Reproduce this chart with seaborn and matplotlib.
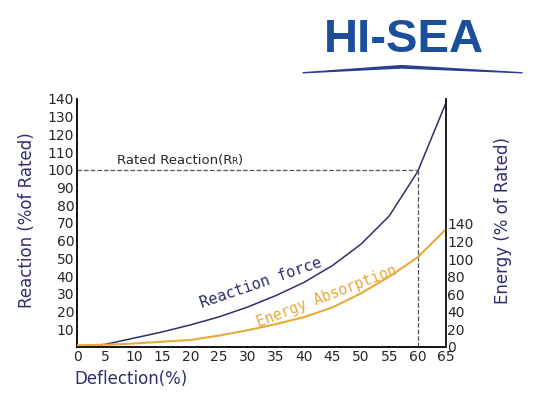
import numpy as np
import pandas as pd
import seaborn as sns
import matplotlib.pyplot as plt
from matplotlib.patches import Polygon

# --- DATOS ---
deflection = [0, 5, 10, 15, 20, 25, 30, 35, 40, 45, 50, 55, 60, 65]
reaction = [0, 1.5, 5, 8.5, 12.5, 17, 22.5, 29, 36.5, 46, 58, 74, 99, 138]
energy = [2, 2.5, 4, 6, 8, 13, 19, 26, 34, 45, 61, 80, 102, 134]
left_ticks = [10, 20, 30, 40, 50, 60, 70, 80, 90, 100, 110, 120, 130, 140]
right_ticks = [0, 20, 40, 60, 80, 100, 120, 140]
x_ticks = [0, 5, 10, 15, 20, 25, 30, 35, 40, 45, 50, 55, 60, 65]
rated = 100
rated_defl = 60

navy = '#2e2f6e'
orange = '#e8a93a'

sns.set_style('white')
plt.rcParams['font.family'] = ['DejaVu Sans']

df = pd.DataFrame({'x': deflection, 'r': reaction, 'e': energy})

fig = plt.figure(figsize=(5.5, 4), dpi=100)
ax = fig.add_axes([0.14, 0.1325, 0.671, 0.62])
sns.lineplot(data=df, x='x', y='r', ax=ax, color=navy, linewidth=1.1)
ax.set_xlim(0, 65)
ax.set_ylim(0, 140)
ax.set_xticks(x_ticks)
ax.set_yticks(left_ticks)
ax.tick_params(length=0, labelsize=10, pad=2)
ax.set_xlabel('')
ax.set_ylabel('')
ax.spines['top'].set_visible(False)
for s in ['left', 'bottom', 'right']:
    ax.spines[s].set_color('black')
    ax.spines[s].set_linewidth(1.3)

ax.plot([0, rated_defl], [rated, rated], ls='--', color='#555555', lw=0.9)
ax.plot([rated_defl, rated_defl], [0, rated], ls='--', color='#555555', lw=0.9)
ax.text(7, 103.5, 'Rated Reaction(R', fontsize=9.5)
ax.text(27.2, 103.5, 'R', fontsize=6.5)
ax.text(28.3, 103.5, ')', fontsize=9.5)

ax2 = ax.twinx()
sns.lineplot(data=df, x='x', y='e', ax=ax2, color=orange, linewidth=1.5)
ax2.set_ylim(0, 282)
ax2.set_yticks(right_ticks)
ax2.tick_params(length=0, labelsize=10, pad=1)
ax2.set_ylabel('')
for s in ['top', 'left', 'bottom']:
    ax2.spines[s].set_visible(False)
ax2.spines['right'].set_linewidth(1.3)

ax.text(22, 22, 'Reaction force', family='monospace', fontsize=11, color=navy,
        rotation=19, rotation_mode='anchor')
ax2.text(32, 22, 'Energy Absorption', family='monospace', fontsize=10.5,
         color=orange, rotation=21, rotation_mode='anchor')

fig.text(0.05, 0.45, 'Reaction (%of Rated)', rotation=90, color=navy,
         fontsize=12, ha='center', va='center')
fig.text(0.915, 0.45, 'Energy (% of Rated)', rotation=90, color=navy,
         fontsize=12, ha='center', va='center')
fig.text(0.135, 0.04, 'Deflection(%)', color=navy, fontsize=12)

# logo
fig.text(0.735, 0.9, 'HI-SEA', color='#1b4f9c', fontsize=34,
         fontweight='bold', ha='center', va='center', family='Liberation Sans')
fig.patches.append(Polygon([[0.55, 0.818], [0.73, 0.836], [0.95, 0.818],
                            [0.73, 0.830]], closed=True, color='#2a3f8f',
                           transform=fig.transFigure, figure=fig))

fig.savefig('out.png', dpi=100)
